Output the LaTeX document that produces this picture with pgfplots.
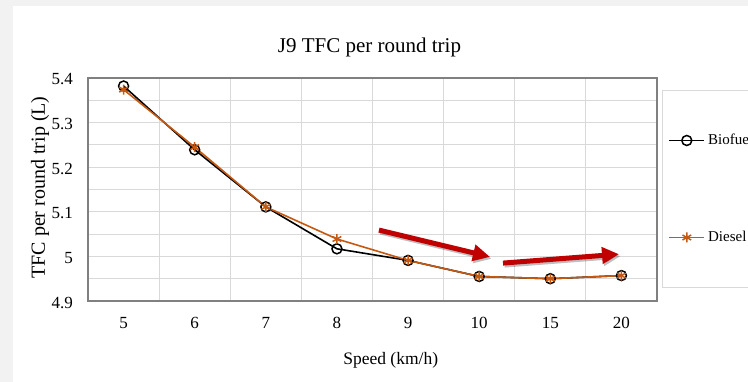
\documentclass[border=0pt]{standalone}
\usepackage{fontspec}
\setmainfont{Liberation Serif}
\usepackage{pgfplots}
\pgfplotsset{compat=1.18}
\usetikzlibrary{arrows.meta}
\definecolor{bggray}{HTML}{F2F2F2}
\definecolor{gridgray}{HTML}{D9D9D9}
\definecolor{bordergray}{HTML}{808080}
\definecolor{dieselorange}{HTML}{C65911}
\definecolor{arrowred}{HTML}{C00000}
\begin{document}
\begin{tikzpicture}
\useasboundingbox (0pt,0pt) rectangle (748pt,382pt);
\clip (0pt,0pt) rectangle (748pt,382pt);
\fill[bggray] (0pt,0pt) rectangle (748pt,382pt);
\fill[white] (13pt,0pt) rectangle (748pt,376pt);
\begin{axis}[
  at={(88pt,81pt)}, anchor=south west,
  width=569pt, height=223pt, scale only axis,
  xmin=-0.5, xmax=7.5, ymin=4.9, ymax=5.4,
  xtick={0,...,7}, xticklabels={5,6,7,8,9,10,15,20},
  minor xtick={-0.5,0.5,...,7.5},
  ytick={4.9,5.0,5.1,5.2,5.3,5.4},
  minor ytick={4.95,5.05,5.15,5.25,5.35},
  xminorgrids, ymajorgrids, yminorgrids,
  grid style={draw=gridgray, line width=1pt},
  minor grid style={draw=gridgray, line width=1pt},
  major tick length=0pt, minor tick length=0pt,
  axis line style={draw=bordergray, line width=1.2pt},
  /pgf/number format/assume math mode=true,
  yticklabel style={/pgf/number format/fixed, /pgf/number format/precision=2,
    font=\fontsize{17}{20}\selectfont, anchor=east, inner sep=0pt, xshift=-15pt, yshift=-1.5pt},
  xticklabel style={font=\fontsize{17}{20}\selectfont, anchor=base, inner sep=0pt, yshift=-28pt},
  title={J9 TFC per round trip},
  title style={font=\fontsize{21}{24}\selectfont, at={(axis description cs:0.4947,1.0884)}, anchor=base, inner sep=0pt},
  xlabel={Speed (km/h)},
  xlabel style={font=\fontsize{17.5}{20}\selectfont, at={(axis description cs:0.532,-0.287)}, anchor=base, inner sep=0pt},
  ylabel={TFC per round trip (L)},
  ylabel style={font=\fontsize{20}{24}\selectfont, at={(axis description cs:-0.0844,0.509)}, anchor=center, inner sep=0pt},
  legend cell align=left,
  legend style={at={(axis description cs:1.0088,0.9462)}, anchor=north west,
    draw=gridgray, line width=1pt, inner xsep=6pt, inner ysep=42pt,
    row sep=81pt, column sep=3pt,
    nodes={inner sep=0pt, anchor=west, text height=12pt, text depth=4pt},
    font=\fontsize{15}{18}\selectfont},
  legend image code/.code={\draw[mark repeat=2,mark phase=2] plot coordinates {(0pt,0pt) (17.5pt,0pt) (35pt,0pt)};},
]
\addplot[black, line width=1.6pt, mark=o, mark size=5pt, mark options={fill=white, line width=1.5pt}]
  coordinates {(0,5.382) (1,5.239) (2,5.111) (3,5.017) (4,4.991) (5,4.955) (6,4.950) (7,4.957)};
\addlegendentry{Biofuel}
\addplot[dieselorange, line width=1.6pt, mark=asterisk, mark size=5pt, mark options={line width=1.5pt}]
  coordinates {(0,5.374) (1,5.245) (2,5.111) (3,5.039) (4,4.991) (5,4.955) (6,4.950) (7,4.957)};
\addlegendentry{Diesel}
% annotation arrows
\draw[black, opacity=0.25, line width=5pt, -{Triangle[length=17pt,width=16pt]}, shift={(1.5pt,-2pt)}]
  (axis cs:3.591,5.059) -- (axis cs:5.152,4.999);
\draw[arrowred, line width=5pt, -{Triangle[length=17pt,width=16pt]}]
  (axis cs:3.591,5.059) -- (axis cs:5.152,4.999);
\draw[black, opacity=0.25, line width=5pt, -{Triangle[length=17pt,width=16pt]}, shift={(1.5pt,-2pt)}]
  (axis cs:5.335,4.985) -- (axis cs:6.966,5.005);
\draw[arrowred, line width=5pt, -{Triangle[length=17pt,width=16pt]}]
  (axis cs:5.335,4.985) -- (axis cs:6.966,5.005);
\end{axis}
\end{tikzpicture}
\end{document}
